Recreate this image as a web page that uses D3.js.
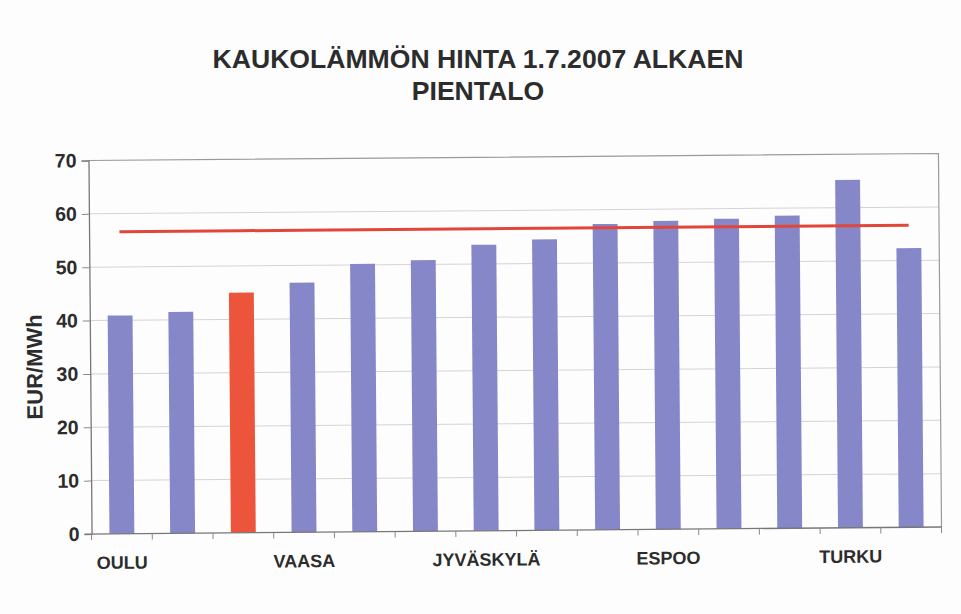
<!DOCTYPE html>
<html>
<head>
<meta charset="utf-8">
<script src="https://cdn.jsdelivr.net/npm/d3@7.9.0/dist/d3.min.js"></script>
<style>
  body { margin: 0; background: #fff; }
  svg { display: block; font-family: "Liberation Sans", Arial, sans-serif; }
</style>
</head>
<body>
<svg id="chart" width="961" height="614"></svg>
<script>
// ---- data ----
const titleLines = ["KAUKOLÄMMÖN HINTA 1.7.2007 ALKAEN", "PIENTALO"];
const yLabel = "EUR/MWh";
// only every third category name is printed on the axis
const cityLabels = ["OULU", "", "", "VAASA", "", "", "JYVÄSKYLÄ", "", "", "ESPOO", "", "", "TURKU", ""];
const prices = [40.9, 41.5, 45.0, 46.8, 50.2, 50.8, 53.6, 54.5, 57.3, 57.8, 58.1, 58.6, 65.2, 52.3];
const highlighted = [2];          // index of the red bar
const referencePrice = 56.6;      // red horizontal line
const yTicks = [0, 10, 20, 30, 40, 50, 60, 70];

const width = 961, height = 614;
const margin = { top: 157, right: 21, bottom: 83.5, left: 90 };
const plot = {
  left: margin.left,
  right: width - margin.right,
  top: margin.top,
  bottom: height - margin.bottom,
};

const svg = d3.select("#chart");
svg.append("rect").attr("width", width).attr("height", height).attr("fill", "#fdfdfd");

// title
const title = svg.append("text")
  .attr("text-anchor", "middle")
  .attr("font-weight", "bold")
  .attr("font-size", 26.6)
  .attr("fill", "#2c2c2c");
title.selectAll("tspan")
  .data(titleLines)
  .join("tspan")
  .attr("x", 478)
  .attr("y", (d, i) => 68 + i * 32)
  .text((d) => d);

// the scanned chart is tilted slightly, so the chart body is rotated a bit
const cx = (plot.left + plot.right) / 2, cy = (plot.top + plot.bottom) / 2;
const g = svg.append("g").attr("transform", `rotate(-0.47, ${cx}, ${cy})`);

// ---- scales ----
const x = d3.scaleBand()
  .domain(d3.range(prices.length))
  .range([plot.left, plot.right])
  .paddingInner(0.59)
  .paddingOuter(0.295);

const y = d3.scaleLinear().domain([0, 70]).range([plot.bottom, plot.top]);

// gridlines
g.append("g")
  .selectAll("line")
  .data(yTicks.filter((d) => d > 0 && d < 70))
  .join("line")
  .attr("x1", plot.left)
  .attr("x2", plot.right)
  .attr("y1", (d) => y(d))
  .attr("y2", (d) => y(d))
  .attr("stroke", "#d4d4d4")
  .attr("stroke-width", 1);

// plot frame (top + right)
g.append("path")
  .attr("d", `M${plot.left},${plot.top}H${plot.right}V${plot.bottom}`)
  .attr("fill", "none")
  .attr("stroke", "#9a9a9a")
  .attr("stroke-width", 1.2);

// bars
g.append("g")
  .selectAll("rect")
  .data(prices)
  .join("rect")
  .attr("x", (d, i) => x(i))
  .attr("width", x.bandwidth())
  .attr("y", (d) => y(d))
  .attr("height", (d) => y(0) - y(d))
  .attr("fill", (d, i) => (highlighted.includes(i) ? "#ec553b" : "#8587c9"));

// reference line across bar centres
const line = d3.line()
  .x((d, i) => x(i) + x.bandwidth() / 2)
  .y(() => y(referencePrice));
g.append("path")
  .datum(prices)
  .attr("d", line)
  .attr("fill", "none")
  .attr("stroke", "#e0473a")
  .attr("stroke-width", 3);

// y axis
const yAxis = g.append("g")
  .attr("transform", `translate(${plot.left},0)`)
  .call(d3.axisLeft(y).tickValues(yTicks).tickSize(7).tickPadding(5));
yAxis.select(".domain").attr("stroke", "#777").attr("stroke-width", 1.3);
yAxis.selectAll(".tick line").attr("stroke", "#888");
yAxis.selectAll(".tick text")
  .attr("font-family", "Liberation Sans, Arial, sans-serif")
  .attr("font-size", 19.5)
  .attr("font-weight", "bold")
  .attr("fill", "#2c2c2c");

// x axis: ticks on category boundaries, labels under every third bar
const xAxis = g.append("g").attr("transform", `translate(0,${plot.bottom})`);
xAxis.append("line")
  .attr("x1", plot.left - 7)
  .attr("x2", plot.right)
  .attr("stroke", "#777")
  .attr("stroke-width", 1.3);
xAxis.selectAll("line.tick")
  .data(d3.range(prices.length + 1))
  .join("line")
  .attr("class", "tick")
  .attr("x1", (d) => plot.left + d * x.step())
  .attr("x2", (d) => plot.left + d * x.step())
  .attr("y1", 0)
  .attr("y2", 6)
  .attr("stroke", "#888");
xAxis.selectAll("text")
  .data(cityLabels)
  .join("text")
  .attr("x", (d, i) => x(i) + x.bandwidth() / 2)
  .attr("y", 35)
  .attr("text-anchor", "middle")
  .attr("font-size", 18)
  .attr("font-weight", "bold")
  .attr("fill", "#2c2c2c")
  .text((d) => d);

// y axis title
g.append("text")
  .attr("transform", `translate(42,363) rotate(-90)`)
  .attr("text-anchor", "middle")
  .attr("font-size", 22)
  .attr("font-weight", "bold")
  .attr("fill", "#2c2c2c")
  .text(yLabel);
</script>
</body>
</html>
